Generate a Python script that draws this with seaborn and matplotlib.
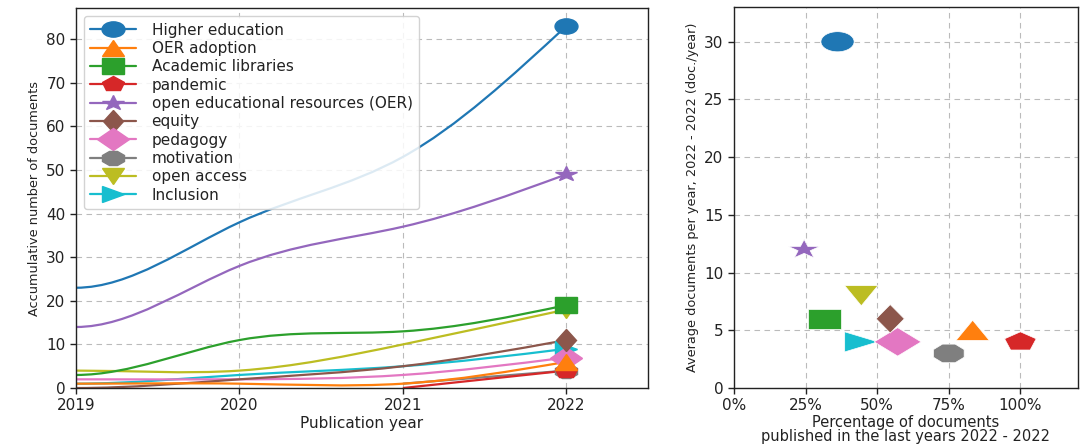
import numpy as np
import pandas as pd
import matplotlib
matplotlib.use("Agg")
import matplotlib.pyplot as plt
from matplotlib.path import Path
from matplotlib.patches import PathPatch
from matplotlib.markers import MarkerStyle
from matplotlib.transforms import Affine2D
from matplotlib.ticker import PercentFormatter
import seaborn as sns

# Keywords and their cumulative document counts per publication year
keywords = ["Higher education", "OER adoption", "Academic libraries", "pandemic",
            "open educational resources (OER)", "equity", "pedagogy", "motivation",
            "open access", "Inclusion"]
years = [2019, 2020, 2021, 2022]
cumulative = {
    "Higher education": [23, 38, 53, 83],
    "OER adoption": [1, 1, 1, 6],
    "Academic libraries": [3, 11, 13, 19],
    "pandemic": [None, None, 0, 4],
    "open educational resources (OER)": [14, 28, 37, 49],
    "equity": [0, 2, 5, 11],
    "pedagogy": [2, 2, 3, 7],
    "motivation": [None, None, 1, 4],
    "open access": [4, 4, 10, 18],
    "Inclusion": [1, 3, 5, 9],
}
# Documents published in the last year window (2022 - 2022) and overall totals
docs_last_period = [30, 5, 6, 4, 12, 6, 4, 3, 8, 4]
total_docs = [83, 6, 19, 4, 49, 11, 7, 4, 18, 9]

marker_codes = ["o", "^", "s", "p", "*", "d", "D", "8", "v", ">"]
colors = sns.color_palette("tab10", 10)

sns.set_theme(style="ticks")
plt.rcParams["font.family"] = ["DejaVu Sans"]
plt.rcParams.update({
    "axes.edgecolor": "#222222",
    "axes.linewidth": 1.0,
    "xtick.color": "#222222",
    "ytick.color": "#222222",
    "axes.labelcolor": "#222222",
    "text.color": "#222222",
})


def wide_marker(code, stretch):
    return MarkerStyle(code, transform=Affine2D().scale(stretch, 1.0))


def spline_slopes(xs, ys):
    """Slopes of a cubic spline: flat start, natural (zero curvature) end."""
    n = len(xs)
    if n == 2:
        d = (ys[1] - ys[0]) / (xs[1] - xs[0])
        return [d, d]
    A = np.zeros((n, n))
    b = np.zeros(n)
    A[0, 0] = 1.0
    for i in range(1, n - 1):
        A[i, i - 1], A[i, i], A[i, i + 1] = 1.0, 4.0, 1.0
        b[i] = 3.0 * (ys[i + 1] - ys[i - 1])
    A[n - 1, n - 2], A[n - 1, n - 1] = 1.0, 2.0
    b[n - 1] = 3.0 * (ys[n - 1] - ys[n - 2])
    return list(np.linalg.solve(A, b))


def smooth_path(xs, ys):
    """The spline through the points, written as cubic Bezier segments."""
    m = spline_slopes(xs, ys)
    verts = [(xs[0], ys[0])]
    codes = [Path.MOVETO]
    for i in range(len(xs) - 1):
        dx = xs[i + 1] - xs[i]
        verts += [(xs[i] + dx / 3, ys[i] + m[i] * dx / 3),
                  (xs[i + 1] - dx / 3, ys[i + 1] - m[i + 1] * dx / 3),
                  (xs[i + 1], ys[i + 1])]
        codes += [Path.CURVE4] * 3
    return Path(verts, codes)


fig = plt.figure(figsize=(10.9, 4.45), dpi=100)
ax1 = fig.add_axes([0.0697, 0.128, 0.5248, 0.854])
ax2 = fig.add_axes([0.6734, 0.128, 0.3153, 0.856])

grid_kw = dict(color="#bbbbbb", linestyle=(0, (5, 4)), linewidth=0.8)

# Left panel: cumulative documents per keyword (first keyword drawn on top)
handles = {}
n_kw = len(keywords)
for rank, (kw, col, mk) in reversed(list(enumerate(zip(keywords, colors, marker_codes)))):
    pts = [(y, v) for y, v in zip(years, cumulative[kw]) if v is not None]
    xs = [p[0] for p in pts]
    ys = [p[1] for p in pts]
    z = 2 + (n_kw - rank) * 0.01
    ax1.add_patch(PathPatch(smooth_path(xs, ys), fill=False, edgecolor=col,
                            linewidth=1.6, zorder=z))
    (h,) = ax1.plot([xs[-1]], [ys[-1]], linestyle="-", linewidth=1.6, color=col,
                    marker=wide_marker(mk, 1.5), markersize=11, label=kw, zorder=z + 1)
    handles[kw] = h

ax1.set_xlim(2019, 2022.5)
ax1.set_ylim(0, 83 * 1.05)
ax1.set_xticks(years)
ax1.set_yticks(range(0, 81, 10))
ax1.grid(True, **grid_kw)
ax1.set_axisbelow(True)
ax1.set_xlabel("Publication year", fontsize=11, labelpad=2)
ax1.set_ylabel("Accumulative number of documents", fontsize=9.3)
ax1.tick_params(labelsize=11, length=4, width=1)
ax1.legend([handles[k] for k in keywords], keywords, loc="upper left", fontsize=11,
           handlelength=3.0, labelspacing=0.22, borderpad=0.4, handletextpad=1.0,
           borderaxespad=0.55, framealpha=0.85, edgecolor="#cccccc")

# Right panel: share of recent documents vs yearly average
summary = pd.DataFrame({
    "keyword": keywords,
    "share": [a / b for a, b in zip(docs_last_period, total_docs)],
    "per_year": docs_last_period,
})
plot_order = summary.iloc[::-1]
sns.scatterplot(data=plot_order, x="share", y="per_year", hue="keyword", style="keyword",
                hue_order=keywords, style_order=keywords, palette=colors,
                markers=[wide_marker(m, 1.65) for m in marker_codes],
                s=210, linewidth=0.5, edgecolor="white", legend=False, ax=ax2, zorder=3)

ax2.set_xlim(0, 1.2)
ax2.set_ylim(0, 33)
ax2.set_xticks([0, 0.25, 0.5, 0.75, 1.0])
ax2.set_yticks(range(0, 31, 5))
ax2.xaxis.set_major_formatter(PercentFormatter(xmax=1, decimals=0))
ax2.grid(True, **grid_kw)
ax2.set_axisbelow(True)
ax2.set_xlabel("Percentage of documents\npublished in the last years 2022 - 2022",
               fontsize=10.5, linespacing=0.95, labelpad=1)
ax2.set_ylabel("Average documents per year, 2022 - 2022 (doc./year)", fontsize=9.3)
ax2.tick_params(labelsize=11, length=4, width=1)

for ax in (ax1, ax2):
    for sp in ax.spines.values():
        sp.set_visible(True)

fig.savefig("out.png", dpi=100)
